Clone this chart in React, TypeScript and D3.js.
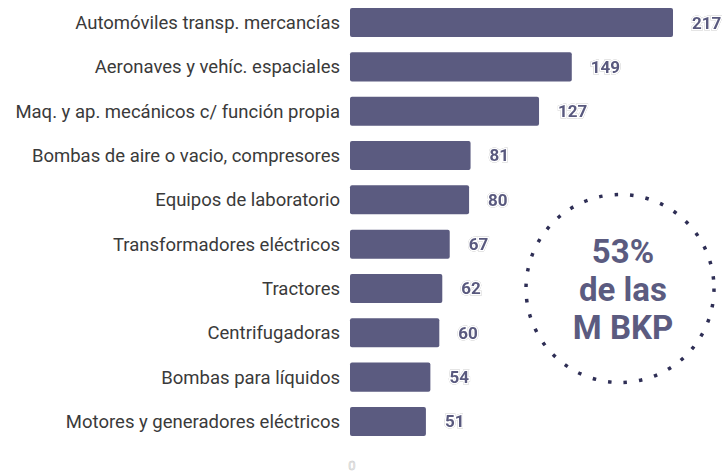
import React from 'react';
import * as d3 from 'd3';

const categories = [
  'Automóviles transp. mercancías',
  'Aeronaves y vehíc. espaciales',
  'Maq. y ap. mecánicos c/ función propia',
  'Bombas de aire o vacio, compresores',
  'Equipos de laboratorio',
  'Transformadores eléctricos',
  'Tractores',
  'Centrifugadoras',
  'Bombas para líquidos',
  'Motores y generadores eléctricos',
];
const values = [217, 149, 127, 81, 80, 67, 62, 60, 54, 51];
const xTicks = [0];
const calloutLines = ['53%', 'de las', 'M BKP'];

const width = 722;
const height = 473;
const margin = { top: 0, right: 49, bottom: 30, left: 350 };
const barColor = '#5b5b80';
const font = 'Roboto, sans-serif';

const App = () => {
  const x = d3.scaleLinear()
    .domain([0, 217])
    .range([margin.left, 673]);

  const y = d3.scaleBand()
    .domain(categories)
    .range([0.5, 443.5])
    .paddingInner(0.345)
    .paddingOuter(0.17);

  const circleX = 620;
  const circleY = 288.5;
  const circleR = 94;

  return (
    <svg width={width} height={height} style={{ position: 'absolute', left: 0, top: 0 }}>
      {categories.map((c, i) => {
        const yy = y(c)!;
        const bh = y.bandwidth();
        return (
          <g key={c}>
            <text x={340} y={yy + bh / 2} dy="0.35em" textAnchor="end"
              fontFamily={font} fontSize={18.5} fill="#3a3a3a">{c}</text>
            <rect x={x(0)} y={yy} width={x(values[i]) - x(0)} height={bh}
              rx={2} fill={barColor} />
            <text x={x(values[i]) + 19} y={yy + bh / 2} dy="0.35em"
              fontFamily={font} fontSize={17} fontWeight={700} fill="#59597e"
              stroke="#fff" strokeWidth={3} paintOrder="stroke"
              style={{ filter: 'drop-shadow(0 0 0.6px #999)' }}>{values[i]}</text>
          </g>
        );
      })}
      {xTicks.map(t => (
        <text key={t} x={x(t) + 2} y={465} dy="0.35em" textAnchor="middle"
          fontFamily={font} fontSize={13} fill="#fff" stroke="#c8c8c8" strokeWidth={0.6}>{t}</text>
      ))}
      <circle cx={circleX} cy={circleY} r={circleR} fill="none" stroke="#2e2e55"
        strokeWidth={3.5} strokeDasharray="3.5 12.1" />
      {calloutLines.map((l, i) => (
        <text key={l} x={circleX + 3} y={circleY - 37 + i * 38} dy="0.35em" textAnchor="middle"
          fontFamily={font} fontSize={33} fontWeight={700} fill="#5b5b80">{l}</text>
      ))}
    </svg>
  );
};

export default App;
